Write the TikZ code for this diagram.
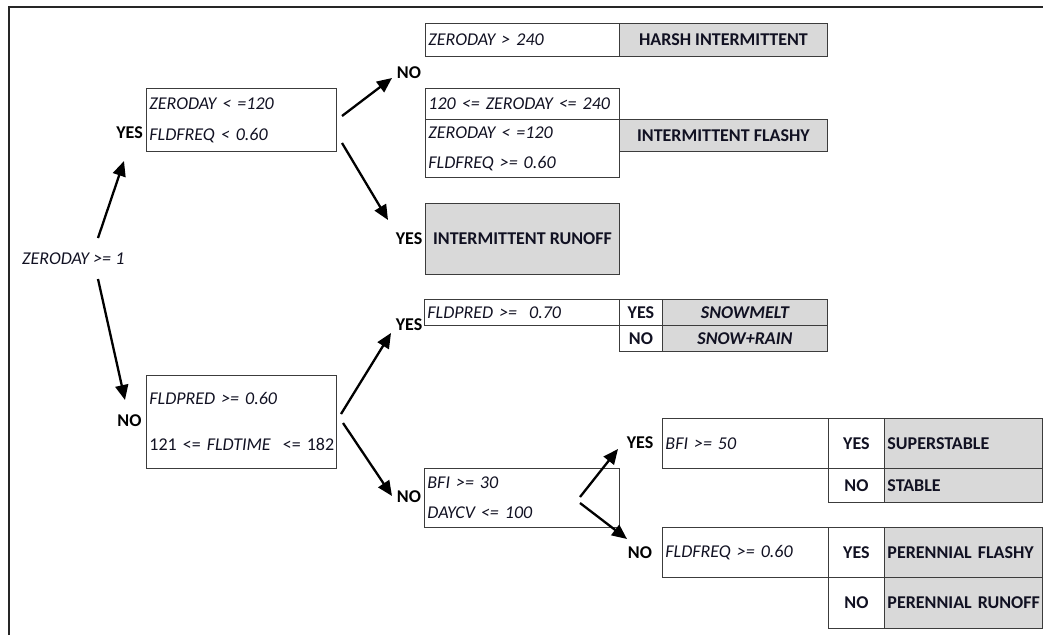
\documentclass[tikz,border=0pt]{standalone}
\usepackage{fontspec}
\setmainfont{Carlito}
\usetikzlibrary{arrows.meta}
\definecolor{boxc}{HTML}{3C3C3C}
\definecolor{cellfill}{HTML}{D9D9D9}
\definecolor{txt}{HTML}{111122}
\tikzset{
  base/.style={anchor=north west, draw=boxc, line width=0.9pt, inner xsep=3pt, inner ysep=0pt, text=txt},
  cond/.style={base, align=left, font=\fontsize{18}{31}\selectfont\itshape},
  res/.style={base, fill=cellfill, align=center, font=\fontsize{18}{20}\selectfont\bfseries},
  resl/.style={base, fill=cellfill, align=left, font=\fontsize{18}{20}\selectfont\bfseries},
  yn/.style={base, align=center, font=\fontsize{18}{20}\selectfont\bfseries},
  lbl/.style={font=\fontsize{18}{20}\selectfont\bfseries, inner sep=0pt, text=black},
  arr/.style={line width=2.3pt, -{Triangle[length=15pt,width=13pt]}},
}
\begin{document}
\begin{tikzpicture}[x=1pt,y=-1pt]
\useasboundingbox (0,0) rectangle (1043,635);
% frame
\draw[line width=2pt, black!85] (9,635) -- (9,7) -- (1043,7);

% root
\node[anchor=west, inner sep=0pt, font=\fontsize{18}{20}\selectfont\itshape, text=txt] (root) at (22,259) {ZERODAY >= 1};

% first level
\node[cond, minimum width=190pt, minimum height=63pt, text width=184pt] (A) at (146,88) {\mbox{ZERODAY < =120}\\\mbox{FLDFREQ < 0.60}};
\node[cond, minimum width=190pt, minimum height=93pt, text width=184pt, font=\fontsize{18}{46}\selectfont] (B) at (146,375) {\mbox{\textit{FLDPRED >= 0.60}}\\\mbox{121 <= \textit{FLDTIME}\ \ <= 182}};
\node[lbl] (yA) at (129.5,133) {YES};
\node[lbl] (nB) at (129.5,421) {NO};

% top right
\node[cond, minimum width=194pt, minimum height=33pt, text width=188pt] (C1) at (425,23) {\mbox{ZERODAY > 240}};
\node[res, minimum width=208pt, minimum height=33pt] (H) at (619,23) {HARSH INTERMITTENT};
\node[lbl] (nC) at (409,73) {NO};
\node[cond, minimum width=194pt, minimum height=31pt, text width=188pt] (C2) at (425,88) {\mbox{120 <= ZERODAY <= 240}};
\node[cond, minimum width=194pt, minimum height=58pt, text width=188pt, font=\fontsize{18}{30}\selectfont\itshape] (C3) at (425,119) {\mbox{ZERODAY < =120}\\\mbox{FLDFREQ >= 0.60}};
\node[res, minimum width=208pt, minimum height=32pt] (F) at (619,119) {INTERMITTENT FLASHY};
\node[res, minimum width=194pt, minimum height=71pt] (R) at (425,203) {INTERMITTENT RUNOFF};
\node[lbl] (yR) at (409,239) {YES};

% snow
\node[cond, minimum width=195pt, minimum height=26pt, text width=189pt] (D) at (424,299) {\mbox{FLDPRED >= \ 0.70}};
\node[yn, minimum width=43pt, minimum height=26pt] (Dy) at (619,299) {YES};
\node[res, minimum width=165pt, minimum height=26pt, font=\fontsize{18}{20}\selectfont\bfseries\itshape] (Ds) at (662,299) {SNOWMELT};
\node[yn, minimum width=43pt, minimum height=26pt] (Dn) at (619,325) {NO};
\node[res, minimum width=165pt, minimum height=26pt, font=\fontsize{18}{20}\selectfont\bfseries\itshape] (Dr) at (662,325) {SNOW+RAIN};
\node[lbl] (yD) at (409,325) {YES};

% perennial
\node[cond, minimum width=195pt, minimum height=59pt, text width=189pt, font=\fontsize{18}{30}\selectfont\itshape] (E) at (424,468) {\mbox{BFI >= 30}\\\mbox{DAYCV <= 100}};
\node[lbl] (nE) at (409,497) {NO};

\node[cond, minimum width=166pt, minimum height=50pt, text width=160pt] (G) at (662,418) {\mbox{BFI >= 50}};
\node[yn, minimum width=56pt, minimum height=50pt] (Gy) at (828,418) {YES};
\node[resl, minimum width=158pt, minimum height=50pt, text width=152pt] (Gs) at (884,418) {\mbox{SUPERSTABLE}};
\node[yn, minimum width=56pt, minimum height=34pt] (Gn) at (828,468) {NO};
\node[resl, minimum width=158pt, minimum height=34pt, text width=152pt] (Gt) at (884,468) {\mbox{STABLE}};
\node[lbl] (yG) at (640,443) {YES};

\node[cond, minimum width=166pt, minimum height=50pt, text width=160pt] (K) at (662,527) {\mbox{FLDFREQ >= 0.60}};
\node[yn, minimum width=56pt, minimum height=50pt] (Ky) at (828,527) {YES};
\node[resl, minimum width=158pt, minimum height=50pt, text width=152pt] (Kf) at (884,527) {\mbox{PERENNIAL FLASHY}};
\node[yn, minimum width=56pt, minimum height=51pt] (Kn) at (828,577) {NO};
\node[resl, minimum width=158pt, minimum height=51pt, text width=152pt] (Kr) at (884,577) {\mbox{PERENNIAL RUNOFF}};
\node[lbl] (nK) at (640,553) {NO};

% arrow end points
\coordinate (r1) at (98,238);  \coordinate (t1) at (124,161);
\coordinate (r2) at (98,279);  \coordinate (t2) at (125,400);
\coordinate (a1) at (342,116); \coordinate (t3) at (392,78);
\coordinate (a2) at (342,143); \coordinate (t4) at (388,220);
\coordinate (b1) at (341,414); \coordinate (t5) at (391,333);
\coordinate (b2) at (343,423); \coordinate (t6) at (392,496);
\coordinate (e1) at (580,497); \coordinate (t7) at (618,449);
\coordinate (e2) at (580,503); \coordinate (t8) at (627,539);

\draw[arr] (r1) -- (t1);
\draw[arr] (r2) -- (t2);
\draw[arr] (a1) -- (t3);
\draw[arr] (a2) -- (t4);
\draw[arr] (b1) -- (t5);
\draw[arr] (b2) -- (t6);
\draw[arr] (e1) -- (t7);
\draw[arr] (e2) -- (t8);
\end{tikzpicture}
\end{document}
